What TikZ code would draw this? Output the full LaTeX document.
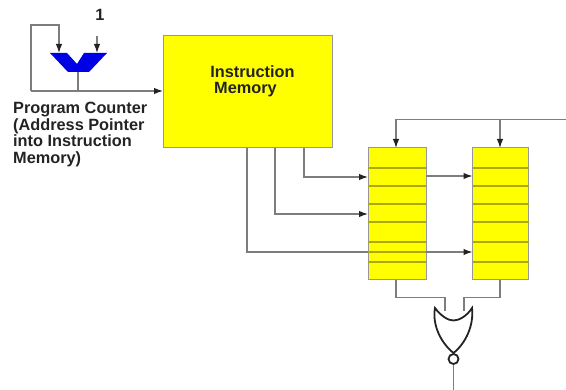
\documentclass[tikz,border=0pt]{standalone}
\usepackage{fontspec}
\setmainfont{Liberation Sans}
\usetikzlibrary{arrows.meta,calc}
\definecolor{wire}{RGB}{125,125,125}
\definecolor{regline}{RGB}{170,170,0}
\definecolor{pureyellow}{RGB}{255,255,0}
\definecolor{pureblue}{RGB}{0,0,230}
\definecolor{inkdark}{RGB}{35,35,35}
\tikzset{
  wireline/.style={draw=wire,line width=1.3pt},
  arrowline/.style={wireline,-{Latex[length=9pt,width=6.5pt,inkdark]}},
  memblock/.style={draw=wire!80,line width=1pt,fill=pureyellow,inner sep=0pt,outer sep=0pt,anchor=north west},
  divider/.style={draw=regline,line width=1.3pt},
  label/.style={font=\bfseries\fontsize{16.3}{16.7}\selectfont,text=inkdark,inner sep=0pt},
  gateline/.style={draw=inkdark,line width=1.8pt,fill=white}
}
\begin{document}
\begin{tikzpicture}[x=1pt,y=-1pt]
\useasboundingbox (0,0) rectangle (566,390);
% program counter adder
\fill[pureblue] (50,53) -- (67,53) -- (77,64) -- (84,53) -- (107,53) -- (89,72) -- (68,72) -- cycle;
\coordinate (addA) at (59,53);
\coordinate (addB) at (97,53);
\coordinate (addOut) at (78,72);
\coordinate (bus) at (78,91);
\coordinate (oneIn) at (97,36);
\coordinate (loopA) at (31,91);
\coordinate (loopB) at (31,25);
\coordinate (loopC) at (59,25);
\node[label] (one) at (100,15) {1};
% instruction memory
\node[memblock,minimum width=169pt,minimum height=112pt] (imem) at (163,36) {};
\node[label,anchor=base] (imemA) at (252.5,78) {Instruction};
\node[label,anchor=base] (imemB) at (245.5,94) {Memory};
\node[label,anchor=base west] (pcA) at (13,113.5) {Program Counter};
\node[label,anchor=base west] (pcB) at (13,130.5) {(Address Pointer};
\node[label,anchor=base west] (pcC) at (13,147) {into Instruction};
\node[label,anchor=base west] (pcD) at (13,163.5) {Memory)};
% registers
\node[memblock,minimum width=58pt,minimum height=132pt] (regA) at (368,148) {};
\node[memblock,minimum width=56pt,minimum height=132pt] (regB) at (472.5,148) {};
\foreach \y in {168,186,204,222,242,262}{
  \draw[divider] (368,\y) -- (426,\y);
  \draw[divider] (472.5,\y) -- (528.5,\y);
}
\draw[divider] (368,252) -- (426,252);
% connectors
\draw[wireline] (addOut) -- (bus);
\draw[arrowline] (loopA) -- (imem.west |- bus);
\draw[arrowline] (loopA) -- (loopB) -- (loopC) -- (addA);
\draw[arrowline] (oneIn) -- (addB);
\draw[arrowline] (304,148) |- (368,177);
\draw[arrowline] (275,148) |- (368,214);
\draw[wireline] (247,148) |- (368,252);
\draw[arrowline] (426,252) -- (472.5,252);
\draw[arrowline] (426,176) -- (472.5,176);
\coordinate (clockIn) at (566,119.5);
\draw[arrowline] (clockIn) -- (396,119.5) -- (396,148);
\draw[arrowline] (500,119.5) -- (500,148);
% NOR gate
\coordinate (gateA) at (445,311);
\coordinate (gateB) at (464,311);
\draw[wireline] (396,280) -- (396,297.5) -| (gateA);
\draw[wireline] (500,280) -- (500,297.5) -| (gateB);
\draw[gateline,line join=miter] (435,308) .. controls (441,316) and (448,320.5) .. (453.5,320.5)
  .. controls (459,320.5) and (467,316) .. (472,308)
  .. controls (474,325) and (466,343) .. (453.5,353)
  .. controls (441,343) and (432,325) .. (435,308) -- cycle;
\node[circle,draw=inkdark,line width=1.8pt,fill=white,minimum size=10pt,inner sep=0pt] (bubble) at (453.5,359) {};
\coordinate (gateOut) at (453.5,390);
\draw[wireline] (bubble) -- (gateOut);
\end{tikzpicture}
\end{document}
